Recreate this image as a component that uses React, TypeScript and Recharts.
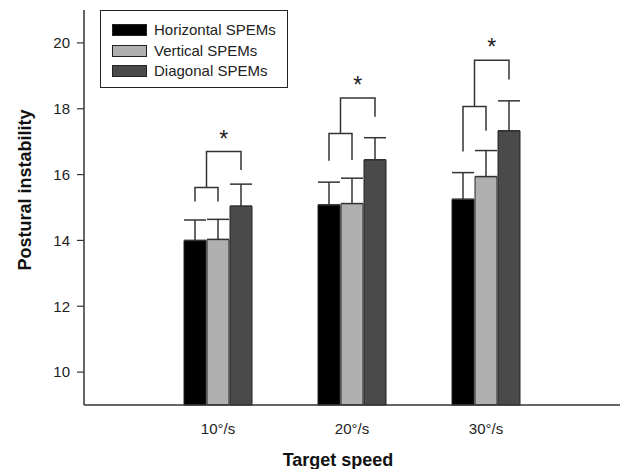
import React from 'react';
import { BarChart, Bar, XAxis, YAxis, ErrorBar, Rectangle } from 'recharts';

// values
const categories = ['10°/s', '20°/s', '30°/s'];
const horizontal = [14.0, 15.08, 15.25];
const vertical = [14.03, 15.12, 15.94];
const diagonal = [15.04, 16.45, 17.33];
const horizontalErr = [0.62, 0.69, 0.81];
const verticalErr = [0.61, 0.77, 0.79];
const diagonalErr = [0.67, 0.67, 0.91];

// significance brackets (y values)
const smallTop = [15.61, 17.25, 18.07];
const smallLegLeft = [15.18, 16.42, 16.7];
const smallLegRight = [15.18, 16.44, 17.33];
const bigTop = [16.7, 18.33, 19.47];
const bigLegRight = [16.14, 17.76, 18.89];

const yTicks = [10, 12, 14, 16, 18, 20];
const Y_MIN = 9;
const Y_MAX = 21;

const series = [
  { key: 'horizontal', name: 'Horizontal SPEMs', color: '#000000' },
  { key: 'vertical', name: 'Vertical SPEMs', color: '#b0b0b0' },
  { key: 'diagonal', name: 'Diagonal SPEMs', color: '#4a4a4a' },
];

const data = categories.map((speed, i) => ({
  speed,
  horizontal: horizontal[i],
  vertical: vertical[i],
  diagonal: diagonal[i],
  horizontalErr: [0, horizontalErr[i]],
  verticalErr: [0, verticalErr[i]],
  diagonalErr: [0, diagonalErr[i]],
  smallTop: smallTop[i],
  smallLegLeft: smallLegLeft[i],
  smallLegRight: smallLegRight[i],
  bigTop: bigTop[i],
  bigLegRight: bigLegRight[i],
}));

const FONT = '"Liberation Sans", Arial, sans-serif';
const BAR_SIZE = 22;
const BAR_GAP = 1;
const INK = '#333333';

// draws the diagonal bar plus the bracket set of its group
const DiagonalShape = (props: any) => {
  const { x, y, width, height, payload, fill } = props;
  const base = y + height;
  const k = height / (payload.diagonal - Y_MIN);
  const yOf = (v: number) => base - (v - Y_MIN) * k;
  const step = width + BAR_GAP;
  const cDark = x + width / 2;
  const cGrey = cDark - step;
  const cBlack = cDark - 2 * step;
  const mid = (cBlack + cGrey) / 2;
  const sTop = yOf(payload.smallTop);
  const bTop = yOf(payload.bigTop);
  const path =
    `M${cBlack},${yOf(payload.smallLegLeft)} V${sTop} H${cGrey} V${yOf(payload.smallLegRight)} ` +
    `M${mid},${sTop} V${bTop} H${cDark} V${yOf(payload.bigLegRight)}`;
  return (
    <g>
      <Rectangle x={x} y={y} width={width} height={height} fill={fill} stroke="#222" strokeWidth={1} />
      <path d={path} fill="none" stroke={INK} strokeWidth={1.5} />
      <text x={(mid + cDark) / 2} y={bTop - 5} textAnchor="middle" fontSize={23} fill="#222" fontFamily={FONT}>
        *
      </text>
    </g>
  );
};

const Legend = () => (
  <div
    style={{
      position: 'absolute',
      left: 100,
      top: 10,
      width: 186,
      height: 76,
      border: '1.5px solid #222',
      background: '#fff',
      fontFamily: FONT,
      fontSize: 15,
      color: '#222',
    }}
  >
    {series.map((s, i) => (
      <div key={s.key} style={{ position: 'absolute', left: 11, top: 13 + i * 20.5, display: 'flex', alignItems: 'center', lineHeight: '12px' }}>
        <div style={{ width: 33, height: 10, background: s.color, border: '1px solid #222', marginRight: 7 }} />
        <span>{s.name}</span>
      </div>
    ))}
  </div>
);

export default function App() {
  return (
    <div style={{ position: 'absolute', left: 0, top: 0, width: 623, height: 469, background: '#fff' }}>
      <BarChart
        width={623}
        height={469}
        data={data}
        margin={{ top: 10, right: 3, bottom: 0, left: 24 }}
        barSize={BAR_SIZE}
        barGap={BAR_GAP}
      >
        <XAxis
          dataKey="speed"
          height={64}
          padding={{ left: 67, right: 67 }}
          tickLine={false}
          tickSize={0}
          tickMargin={18}
          axisLine={{ stroke: INK, strokeWidth: 1.5 }}
          tick={{ fill: '#222', fontSize: 15, fontFamily: FONT }}
          label={() => (
            <text x={338} y={466} textAnchor="middle" fontSize={18} fontWeight="bold" fill="#111" fontFamily={FONT}>
              Target speed
            </text>
          )}
        />
        <YAxis
          type="number"
          domain={[Y_MIN, Y_MAX]}
          ticks={yTicks}
          width={60}
          tickSize={7}
          tickMargin={7}
          axisLine={{ stroke: INK, strokeWidth: 1.5 }}
          tickLine={{ stroke: INK, strokeWidth: 1.2 }}
          tick={{ fill: '#222', fontSize: 15, fontFamily: FONT }}
          label={() => (
            <text
              x={31}
              y={190}
              transform="rotate(-90 31 190)"
              textAnchor="middle"
              fontSize={18}
              fontWeight="bold"
              fill="#111"
              fontFamily={FONT}
            >
              Postural instability
            </text>
          )}
        />
        <Bar dataKey="horizontal" fill={series[0].color} stroke="#222" strokeWidth={1} isAnimationActive={false}>
          <ErrorBar dataKey="horizontalErr" width={11} stroke={INK} strokeWidth={1.5} direction="y" />
        </Bar>
        <Bar dataKey="vertical" fill={series[1].color} stroke="#222" strokeWidth={1} isAnimationActive={false}>
          <ErrorBar dataKey="verticalErr" width={11} stroke={INK} strokeWidth={1.5} direction="y" />
        </Bar>
        <Bar dataKey="diagonal" fill={series[2].color} shape={DiagonalShape} isAnimationActive={false}>
          <ErrorBar dataKey="diagonalErr" width={11} stroke={INK} strokeWidth={1.5} direction="y" />
        </Bar>
      </BarChart>
      <Legend />
    </div>
  );
}
